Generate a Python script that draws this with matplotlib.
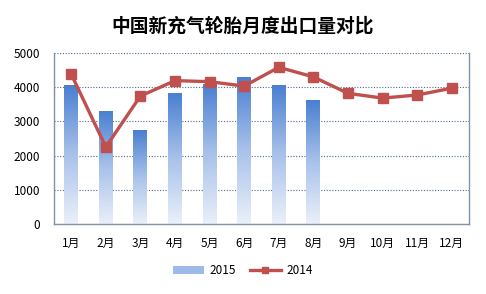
import matplotlib
matplotlib.use("Agg")
import matplotlib.pyplot as plt
import numpy as np
from matplotlib.colors import LinearSegmentedColormap
from matplotlib.patches import Patch
from matplotlib.lines import Line2D

plt.rcParams["font.family"] = ["Noto Sans CJK SC", "DejaVu Sans"]

MONTHS = ["1月", "2月", "3月", "4月", "5月", "6月",
          "7月", "8月", "9月", "10月", "11月", "12月"]
EXPORT_2015 = [4040, 3280, 2720, 3810, 4090, 4270, 4060, 3600]
EXPORT_2014 = [4380, 2250, 3740, 4190, 4160, 4030, 4580, 4300, 3820, 3680, 3770, 3970]

BAR_TOP = "#4a7fd2"
BAR_BOTTOM = "#eaf0fa"
LINE_COLOR = "#c0504d"
AXIS_COLOR = "#7f93a8"

fig = plt.figure(figsize=(4.86, 2.94), dpi=100)
ax = fig.add_axes([0.111, 0.238, 0.854, 0.582])

x = np.arange(len(MONTHS))
bars = ax.bar(x[:len(EXPORT_2015)], EXPORT_2015, 0.4, color="none",
              edgecolor="none", zorder=2)
cmap = LinearSegmentedColormap.from_list("bar", [BAR_BOTTOM, "#a9c2ea", BAR_TOP])
grad = np.linspace(0, 1, 256).reshape(-1, 1)
for b in bars:
    x0, w, h = b.get_x(), b.get_width(), b.get_height()
    ax.imshow(grad, cmap=cmap, origin="lower", aspect="auto",
              extent=(x0, x0 + w, 0, h), zorder=2)

ax.plot(x, EXPORT_2014, color=LINE_COLOR, linewidth=2.4, marker="s",
        markersize=7, zorder=3)

ax.set_xlim(-0.5, len(MONTHS) - 0.5)
ax.set_ylim(0, 5000)
ax.set_yticks(range(0, 5001, 1000))
ax.set_xticks(x)
ax.set_xticklabels(MONTHS)
ax.tick_params(axis="both", length=0, labelsize=8.5, colors="black")
ax.tick_params(axis="x", pad=9)
ax.tick_params(axis="y", pad=10)
ax.yaxis.grid(True, linestyle=(0, (1, 1.5)), color="#4f6a8a", linewidth=0.8)
ax.set_axisbelow(True)
ax.spines["top"].set_visible(False)
for s in ("left", "bottom", "right"):
    ax.spines[s].set_color(AXIS_COLOR)
    ax.spines[s].set_linewidth(1.0)

fig.text(0.5, 0.912, "中国新充气轮胎月度出口量对比", ha="center", va="center",
         fontsize=13.5, fontweight="bold")

handles = [Patch(facecolor="#9dbbe8", edgecolor="none", label="2015"),
           Line2D([0], [0], color=LINE_COLOR, linewidth=2.4, marker="s",
                  markersize=5, label="2014")]
fig.legend(handles=handles, loc="center", bbox_to_anchor=(0.5, 0.08),
           ncol=2, frameon=False, fontsize=8.5, handlelength=2.6,
           columnspacing=1.2, handletextpad=0.5)

fig.savefig("out.png", dpi=100)
